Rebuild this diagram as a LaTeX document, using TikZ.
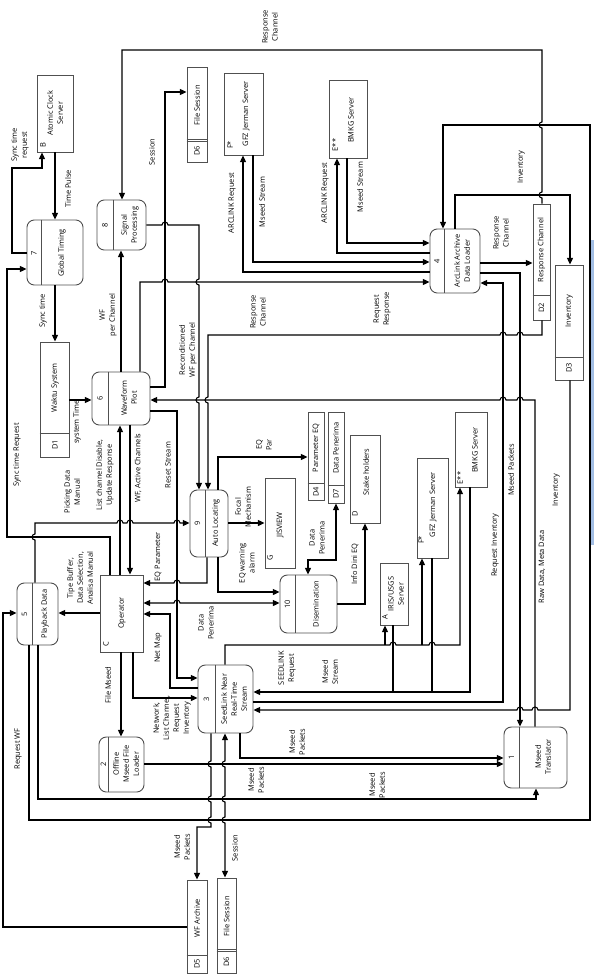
\documentclass[tikz,border=0pt]{standalone}
\usepackage{fontspec}
\setmainfont{Open Sans}
\usetikzlibrary{arrows.meta,fit}
\definecolor{barblue}{RGB}{163,190,228}
\definecolor{boxgray}{RGB}{80,80,80}
\tikzset{every picture/.style={line width=0.8pt}}
\tikzset{
  arr/.style={-{Triangle[length=5pt,width=4.5pt]}},
  arrs/.style={{Triangle[length=5pt,width=4.5pt]}-{Triangle[length=5pt,width=4.5pt]}},
  pbox/.style={draw=boxgray, line width=0.7pt, rounded corners=5.5pt, inner sep=0pt},
  sbox/.style={draw=boxgray, line width=0.7pt, inner sep=0pt},
  split/.style={boxgray, line width=0.7pt},
  lbl/.style={rotate=90, inner sep=0.75pt, align=center, font=\fontsize{5.6}{7.5}\selectfont},
}
\begin{document}
\begin{tikzpicture}[x=0.75pt,y=0.75pt,yscale=-1,xscale=1]
\useasboundingbox (0,0) rectangle (594,977);

%Shape: Entities
\node[sbox, fit={(37,75) (73,152)}] (b) {};
\node[lbl] (bt) at (55,113) {Atomic Clock\\Server};
\node[lbl] (bn) at (43,145) {B};
\node[sbox, fit={(224,73) (263,155)}] (fa) {};
\node[lbl] (fat) at (246,114) {GFZ Jerman Server};
\node[lbl] (fan) at (230,145) {F*};
\node[sbox, fit={(329,80) (367,158)}] (ea) {};
\node[lbl] (eat) at (351,120) {BMKG Server};
\node[lbl] (ean) at (335,145) {E**};
\node[sbox, fit={(350,435) (380,523)}] (sh) {};
\node[lbl] (sht) at (366,472) {Stake holders};
\node[lbl] (shn) at (355,514) {D};
\node[sbox, fit={(455,412) (487,487)}] (eb) {};
\node[lbl] (ebt) at (475,450) {BMKG Server};
\node[lbl] (ebn) at (460,478) {E**};
\node[sbox, fit={(417,458) (448,558)}] (fb) {};
\node[lbl] (fbt) at (433,505) {GFZ Jerman Server};
\node[lbl] (fbn) at (421,540) {F*};
\node[sbox, fit={(265,478) (295,568)}] (g) {};
\node[lbl] (gt) at (280,525) {JISVIEW};
\node[lbl] (gn) at (270,558) {G};
\node[sbox, fit={(100,575) (143,652)}] (op) {};
\node[lbl] (opt) at (122,613) {Operator};
\node[lbl] (opn) at (106,644) {C};
\node[sbox, fit={(380,563) (408,625)}] (ia) {};
\node[lbl] (iat) at (396,594) {IRIS/USGS\\Server};
\node[lbl] (ian) at (385,617) {A};

%Shape: Data stores
\node[sbox, fit={(187,67) (207,162)}] (d6a) {};
\draw[split] (d6a.west |- 0,139) -- (d6a.east |- 0,139);
\draw[split] (d6a.west |- 0,141) -- (d6a.east |- 0,141);
\node[lbl] (d6at) at (197,105) {File Session};
\node[lbl] (d6an) at (197,151) {D6};
\node[sbox, fit={(533,204) (550,320)}] (d2) {};
\draw[split] (d2.west |- 0,295) -- (d2.east |- 0,295);
\node[lbl] (d2t) at (541.5,250) {Response Channel};
\node[lbl] (d2n) at (541.5,308) {D2};
\node[sbox, fit={(555,265) (583,380)}] (d3) {};
\draw[split] (d3.west |- 0,357) -- (d3.east |- 0,357);
\node[lbl] (d3t) at (569,311) {Inventory};
\node[lbl] (d3n) at (569,368) {D3};
\node[sbox, fit={(40,342) (69,457)}] (d1) {};
\draw[split] (d1.west |- 0,433) -- (d1.east |- 0,433);
\node[lbl] (d1t) at (55,388) {Waktu System};
\node[lbl] (d1n) at (55,445) {D1};
\node[sbox, fit={(308,412) (324,500)}] (d4) {};
\draw[split] (d4.west |- 0,483) -- (d4.east |- 0,483);
\node[lbl] (d4t) at (316,448) {Parameter EQ};
\node[lbl] (d4n) at (316,492) {D4};
\node[sbox, fit={(328,412) (344,503)}] (d7) {};
\draw[split] (d7.west |- 0,485) -- (d7.east |- 0,485);
\node[lbl] (d7t) at (336,448) {Data Penerima};
\node[lbl] (d7n) at (336,494) {D7};
\node[sbox, fit={(187,880) (207,973)}] (d5) {};
\draw[split] (d5.west |- 0,955) -- (d5.east |- 0,955);
\node[lbl] (d5t) at (197,918) {WF Archive};
\node[lbl] (d5n) at (197,964) {D5};
\node[sbox, fit={(217,878) (236,973)}] (d6b) {};
\draw[split] (d6b.west |- 0,949) -- (d6b.east |- 0,949);
\draw[split] (d6b.west |- 0,951) -- (d6b.east |- 0,951);
\node[lbl] (d6bt) at (226.5,916) {File Session};
\node[lbl] (d6bn) at (226.5,962) {D6};

%Shape: Processes
\node[pbox, fit={(97,200) (146,250)}] (p8) {};
\draw[split] (p8.north -| 113,0) -- (p8.south -| 113,0);
\node[lbl] (p8n) at (105,225) {8};
\node[lbl] (p8t) at (130,225) {Signal\\Processing};
\node[pbox, fit={(27,220) (83,285)}] (p7) {};
\draw[split] (p7.north -| 41,0) -- (p7.south -| 41,0);
\node[lbl] (p7n) at (34,253) {7};
\node[lbl] (p7t) at (62,253) {Global Timing};
\node[pbox, fit={(430,229) (480,293)}] (p4) {};
\draw[split] (p4.north -| 444,0) -- (p4.south -| 444,0);
\node[lbl] (p4n) at (437,261) {4};
\node[lbl] (p4t) at (462,261) {ArcLink Archive\\Data Loader};
\node[pbox, fit={(92,372) (150,425)}] (p6) {};
\draw[split] (p6.north -| 108,0) -- (p6.south -| 108,0);
\node[lbl] (p6n) at (100,398) {6};
\node[lbl] (p6t) at (129,398) {Waveform\\Plot};
\node[pbox, fit={(190,490) (228,557)}] (p9) {};
\draw[split] (p9.north -| 205,0) -- (p9.south -| 205,0);
\node[lbl] (p9n) at (197.5,523) {9};
\node[lbl] (p9t) at (216,523) {Auto Locating};
\node[pbox, fit={(17,583) (58,645)}] (p5) {};
\draw[split] (p5.north -| 32,0) -- (p5.south -| 32,0);
\node[lbl] (p5n) at (24.5,614) {5};
\node[lbl] (p5t) at (45,614) {Playback Data};
\node[pbox, fit={(280,575) (337,633)}] (p10) {};
\draw[split] (p10.north -| 295,0) -- (p10.south -| 295,0);
\node[lbl] (p10n) at (287.5,604) {10};
\node[lbl] (p10t) at (316,604) {Disemination};
\node[pbox, fit={(198,665) (253,733)}] (p3) {};
\draw[split] (p3.north -| 215,0) -- (p3.south -| 215,0);
\node[lbl] (p3n) at (206.5,699) {3};
\node[lbl] (p3t) at (234,699) {SeedLink Near\\Real-Time\\Stream};
\node[pbox, fit={(99,737) (144,792)}] (p2) {};
\draw[split] (p2.north -| 108,0) -- (p2.south -| 108,0);
\node[lbl] (p2n) at (103.5,764) {2};
\node[lbl] (p2t) at (126,764) {Offline\\Mseed File\\Loader};
\node[pbox, fit={(504,727) (567,788)}] (p1) {};
\draw[split] (p1.north -| 519,0) -- (p1.south -| 519,0);
\node[lbl] (p1n) at (511.5,757) {1};
\node[lbl] (p1t) at (543,757) {Mseed\\Translator};

%Straight Lines: timing
\draw[arr] (p7.west |- 0,253) -| (12,168) -| (b.south -| 42,0);
\draw[arr] (b.south -| 55,0) -- (p7.north -| 55,0);
\draw[arr] (p7.south -| 55,0) -- (d1.north -| 55,0);
\draw[arr] (d1.east |- 0,400) -- (p6.west |- 0,400);
\draw[arr] (op.north -| 110,0) |- (7,537) -- (7,269) -- (p7.west |- 0,269);

%Straight Lines: waveform and signal
\draw[arr] (p6.north -| 121,0) -- (p8.south -| 121,0);
\draw[arr] (d2.north -| 542,0) -- (542,198) arc (90:270:3) -- (542,128) arc (90:270:3) |- (122,50) -- (p8.north -| 122,0);
\draw[arr] (p6.east |- 0,387) -| (165,92) -- (d6a.west |- 0,92);
\draw[arr] (p8.east |- 0,225) -- (162,225) arc (180:360:3) -| (199,279) arc (-90:-270:3) -- (199,397) arc (-90:-270:3) -- (p9.north -| 199,0);
\draw[arr] (p6.north -| 140,0) |- (162,282) arc (180:360:3) -- (p4.west |- 0,282);
\draw[arr] (d2.south -| 542,0) |- (523,335) arc (0:-180:3) -- (506,335) arc (0:-180:3) -| (208,397) arc (-90:-270:3) -- (p9.north -| 208,0);
\draw[arr] (p1.north -| 535,0) |- (523,400) arc (0:-180:3) -- (506,400) arc (0:-180:3) -- (p6.east |- 0,400);

%Straight Lines: archive loader
\draw[arr] (p4.west |- 0,272) -| (fa.south -| 243,0);
\draw[arr] (fa.south -| 253,0) |- (p4.west |- 0,262);
\draw[arr] (p4.west |- 0,253) -| (ea.south -| 337,0);
\draw[arr] (ea.south -| 347,0) |- (p4.west |- 0,243);
\draw[arr] (p4.east |- 0,263) -- (d2.west |- 0,263);
\draw[arr] (p4.north -| 455,0) |- (570,195) -- (d3.north -| 570,0);
\draw[arr] (p4.east |- 0,273) -| (p1.north -| 520,0);
\draw[arr] (p3.east |- 0,702) -| (503,283) -- (p4.east |- 0,283);
\draw[arr] (d3.south -| 570,0) |- (538,710) arc (0:-180:3) -- (523,710) arc (0:-180:3) -- (p3.east |- 0,710);
\draw[arr] (p5.south -| 29,0) |- (590,820) |- (443,125) -- (p4.north -| 443,0);

%Straight Lines: operator
\draw[arr] (p5.north -| 35,0) -- (35,540) arc (90:270:3) -- (35,523) -- (117,523) arc (180:360:3) -- (127,523) arc (180:360:3) -- (174,523) arc (180:360:3) -- (p9.west |- 0,523);
\draw[arr] (op.north -| 120,0) -- (p6.south -| 120,0);
\draw[arr] (p6.south -| 130,0) -- (op.north -| 130,0);
\draw[arr] (p6.east |- 0,411) -| (177,678) -- (p3.west |- 0,678);
\draw[arr] (op.west |- 0,613) -- (p5.east |- 0,613);
\draw[arr] (d5.west |- 0,927) -| (3,613) -- (p5.west |- 0,613);
\draw[arr] (p9.south -| 207,0) |- (180,583) arc (0:-180:3) -- (op.east |- 0,583);
\draw[arrs] (op.east |- 0,603) -- (174,603) arc (180:360:3) -- (p10.west |- 0,603);
\draw[arr] (p9.south -| 218,0) |- (p10.west |- 0,592);
\draw[arr] (p3.west |- 0,688) -| (170,614) -- (op.east |- 0,614);
\draw[arr] (op.south -| 133,0) |- (p3.west |- 0,698);
\draw[arr] (op.south -| 121,0) -- (p2.north -| 121,0);

%Straight Lines: locating and dissemination
\draw[arr] (p9.east |- 0,523) -- (g.west |- 0,523);
\draw[arr] (p9.north -| 218,0) |- (d4.west |- 0,457);
\draw[arrs] (p10.north -| 308,0) |- (336,560) -- (d7.south -| 336,0);
\draw[arr] (p10.east |- 0,604) -| (sh.south -| 365,0);

%Straight Lines: seedlink
\coordinate (slA) at (385,645);
\coordinate (slF) at (422,645);
\draw[arr] (p3.north -| 225,0) |- (390,645) arc (180:360:3) -- (429,645) arc (180:360:3) -| (eb.south -| 460,0);
\draw[arr] (slA) -- (ia.south -| 385,0);
\draw[arr] (slF) -- (fb.south -| 422,0);
\coordinate (msA) at (393,692);
\coordinate (msF) at (432,692);
\draw (ia.south -| 393,0) -- (msA);
\draw (fb.south -| 432,0) -- (msF);
\draw[arr] (eb.south -| 470,0) |- (p3.east |- 0,692);

%Straight Lines: mseed packets
\draw[arr] (p3.south -| 240,0) |- (p1.west |- 0,758);
\draw[arr] (p2.east |- 0,764) -- (p1.west |- 0,764);
\draw[arr] (p5.south -| 38,0) |- (536,799) -- (p1.south -| 536,0);
\draw[arr] (p3.south -| 211,0) -- (211,761) arc (-90:-270:3) -- (211,796) arc (-90:-270:3) -- (211,817) arc (-90:-270:3) -- (211,827) -| (d5.north -| 197,0);
\draw[arrs] (p3.south -| 225,0) -- (225,761) arc (-90:-270:3) -- (225,796) arc (-90:-270:3) -- (225,817) arc (-90:-270:3) -- (d6b.north -| 225,0);

\draw[barblue, line width=2.2pt] (592.5,240) -- (592.5,545);

%Text labels
\node[lbl] (l1) at (20,145) {Sync time\\request};
\node[lbl] (l2) at (68,189) {Time Pulse};
\node[lbl] (l3) at (152,152) {Session};
\node[lbl] (l4) at (270,27) {Response\\Channel};
\node[lbl] (l5) at (232,203) {ARCLINK Request};
\node[lbl] (l6) at (262,202) {Mseed Stream};
\node[lbl] (l7) at (325,193) {ARCLINK Request};
\node[lbl] (l8) at (360,187) {Mseed Stream};
\node[lbl] (l9) at (521,167) {Inventory};
\node[lbl] (l10) at (501,233) {Response\\Channel};
\node[lbl] (l11) at (43,311) {Sync time};
\node[lbl] (l12) at (108,315) {WF\\per Channel};
\node[lbl] (l13) at (188,350) {Reconditioned\\WF per Channel};
\node[lbl] (l14) at (258,312) {Response\\Channel};
\node[lbl] (l15) at (382,309) {Request\\Response};
\node[lbl] (l16) at (77,422) {system Time};
\node[lbl] (l17) at (17,455) {Sync time Request};
\node[lbl] (l18) at (72,492) {Picking Data\\Manual};
\node[lbl] (l19) at (105,475) {List channel Disable,\\Update Response};
\node[lbl] (l20) at (138,468) {WF, Active Channels};
\node[lbl] (l21) at (168,465) {Reset Stream};
\node[lbl] (l22) at (264,445) {EQ\\Par};
\node[lbl] (l23) at (243,507) {Focal\\Mechanism};
\node[lbl] (l24) at (317,538) {Data\\Penerima};
\node[lbl] (l25) at (355,564) {Info Dini EQ};
\node[lbl] (l26) at (247,563) {EQ warning\\alarm};
\node[lbl] (l27) at (206,623) {Data\\Penerima};
\node[lbl] (l28) at (158,557) {EQ Parameter};
\node[lbl] (l29) at (80,578) {Tipe Buffer,\\Data Selection,\\Analisa Manual};
\node[lbl] (l30) at (158,648) {Net Map};
\node[lbl] (l31) at (108,685) {File Mseed};
\node[lbl] (l32) at (172,718) {Network,\\List Channel,\\Request\\Inventory};
\node[lbl] (l33) at (287,668) {SEEDLINK\\Request};
\node[lbl] (l34) at (330,672) {Mseed\\Stream};
\node[lbl] (l35) at (495,545) {Request Inventory};
\node[lbl] (l36) at (511,470) {Mseed Packets};
\node[lbl] (l37) at (542,567) {Raw Data, Meta Data};
\node[lbl] (l38) at (556,490) {Inventory};
\node[lbl] (l39) at (18,749) {Request WF};
\node[lbl] (l40) at (297,742) {Mseed\\Packets};
\node[lbl] (l41) at (256,780) {Mseed\\Packets};
\node[lbl] (l42) at (377,785) {Mseed\\Packets};
\node[lbl] (l43) at (182,847) {Mseed\\Packets};
\node[lbl] (l44) at (235,848) {Session};

\end{tikzpicture}
\end{document}
